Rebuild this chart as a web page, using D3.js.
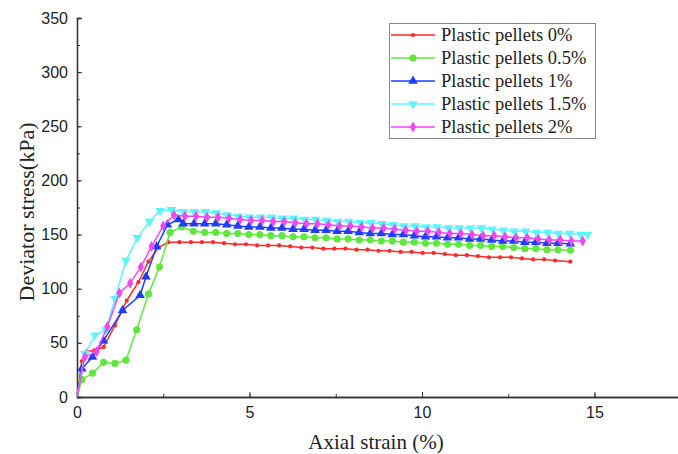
<!DOCTYPE html>
<html lang="en">
<head>
<meta charset="UTF-8">
<title>Deviator stress vs axial strain</title>
<script src="https://d3js.org/d3.v7.min.js"></script>
<style>
    body { margin: 0; background: #fff; overflow: hidden; }
    .tick text { font-family: "Liberation Sans", Arial, sans-serif; font-size: 16px; fill: #222; }
    .title { font-family: "Liberation Serif", "Times New Roman", serif; font-size: 21px; fill: #222; }
    .legend text { font-family: "Liberation Serif", "Times New Roman", serif; font-size: 18.5px; fill: #222; }
</style>
</head>
<body>
<div id="chart"></div>
<script>
// series data: [axial strain %, deviator stress kPa]
const pellets0 = [[0,0],[0.14,33],[0.28,42],[0.5,43],[0.77,46],[1.1,66],[1.44,89],[1.78,106],[2.07,125],[2.36,138],[2.65,143],[2.97,143],[3.3,143],[3.62,143],[3.94,143],[4.26,142],[4.58,141],[4.9,141],[5.22,140],[5.54,140],[5.86,140],[6.18,139],[6.5,138],[6.82,138],[7.14,137],[7.46,137],[7.78,137],[8.1,136],[8.42,136],[8.74,135],[9.06,135],[9.38,134],[9.7,134],[10.02,133],[10.34,133],[10.66,132],[10.98,131],[11.3,131],[11.62,130],[11.94,129],[12.26,129],[12.58,129],[12.9,128],[13.22,127],[13.54,127],[13.86,126],[14.3,125]];
const pellets05 = [[0,0],[0.14,16],[0.45,22],[0.77,32],[1.1,31],[1.42,34],[1.73,62],[2.07,95],[2.39,120],[2.7,152],[3.03,157],[3.37,153],[3.7,152],[4.02,152],[4.34,151],[4.66,151],[4.98,150],[5.3,150],[5.62,149],[5.94,149],[6.26,148],[6.58,148],[6.9,147],[7.22,147],[7.54,146],[7.86,146],[8.18,145],[8.5,145],[8.82,144],[9.14,144],[9.46,143],[9.78,143],[10.1,142],[10.42,142],[10.74,141],[11.06,141],[11.38,140],[11.7,140],[12.02,139],[12.34,139],[12.66,138],[12.98,137],[13.3,137],[13.62,136],[13.94,136],[14.3,135.5]];
const pellets1 = [[0,0],[0.14,26],[0.45,37],[0.77,52],[1.32,80],[1.83,94],[2.0,111],[2.31,139],[2.62,159],[2.94,164],[3.08,160],[3.39,160],[3.7,160],[4.02,160],[4.34,159],[4.66,158],[4.98,157],[5.3,157],[5.62,156],[5.94,156],[6.26,155],[6.58,155],[6.9,154],[7.22,154],[7.54,153],[7.86,153],[8.18,152],[8.5,151],[8.82,151],[9.14,150],[9.46,150],[9.78,149],[10.1,148],[10.42,148],[10.74,147],[11.06,147],[11.38,146],[11.7,146],[12.02,145],[12.34,144],[12.66,144],[12.98,143],[13.3,143],[13.62,142],[13.94,142],[14.3,141.5]];
const pellets15 = [[0,0],[0.23,40],[0.52,57],[0.84,62],[1.1,91],[1.42,126],[1.75,147],[2.1,162],[2.41,172],[2.74,173],[3.08,171],[3.4,171],[3.72,171],[4.04,170],[4.36,168],[4.68,167],[5.0,166],[5.32,166],[5.64,166],[5.96,165],[6.28,165],[6.6,164],[6.92,164],[7.24,163],[7.56,162],[7.88,162],[8.2,161],[8.52,161],[8.84,160],[9.16,159],[9.48,158],[9.8,158],[10.12,157],[10.44,157],[10.76,156],[11.08,156],[11.4,156],[11.72,156],[12.04,155],[12.36,154],[12.68,153],[13.0,153],[13.32,152],[13.64,152],[13.96,151],[14.28,151],[14.6,150],[14.8,150]];
const pellets2 = [[0,0],[0.23,37],[0.57,42],[0.88,65],[1.23,96],[1.54,105],[1.85,120],[2.16,139],[2.5,158],[2.81,168],[3.13,167],[3.45,167],[3.77,166],[4.09,166],[4.41,165],[4.73,164],[5.05,163],[5.37,163],[5.69,162],[6.01,162],[6.33,161],[6.65,160],[6.97,160],[7.29,159],[7.61,158],[7.93,158],[8.25,157],[8.57,156],[8.89,156],[9.21,155],[9.53,154],[9.85,153],[10.17,153],[10.49,152],[10.81,151],[11.13,151],[11.45,150],[11.77,149],[12.09,149],[12.41,148],[12.73,147],[13.05,147],[13.37,146],[13.69,145],[14.01,145],[14.33,144],[14.66,144]];

const seriesNames = ["Plastic pellets 0%", "Plastic pellets 0.5%", "Plastic pellets 1%", "Plastic pellets 1.5%", "Plastic pellets 2%"];
const seriesData = [pellets0, pellets05, pellets1, pellets15, pellets2];
const seriesColors = ["#ff2a2a", "#5ee83c", "#1f3cff", "#5cf5ff", "#f048f0"];
const seriesSymbols = [d3.symbolCircle, d3.symbolCircle, d3.symbolTriangle, "down", d3.symbolDiamond];
const symbolSizes = [14, 40, 40, 40, 34];

const xTicks = [0, 5, 10, 15];
const yTicks = [0, 50, 100, 150, 200, 250, 300, 350];

const width = 678, height = 454;
const svg = d3.select("#chart").append("svg")
    .attr("width", width)
    .attr("height", height);

const x = d3.scaleLinear().domain([0, 17.5]).range([77, 680.75]);
const y = d3.scaleLinear().domain([0, 350]).range([397, 18]);

// minor ticks first, then major ticks with labels
const gx = svg.append("g").attr("transform", `translate(0,${y(0)})`);
gx.call(d3.axisBottom(x).tickValues(d3.range(0, 17.6, 2.5)).tickSize(-3).tickFormat(""));
gx.append("g").call(d3.axisBottom(x).tickValues(xTicks).tickSize(-5).tickPadding(10).tickFormat(d3.format("d")));
gx.selectAll(".domain").attr("stroke", "#333").attr("stroke-width", 1.3);
gx.selectAll("line").attr("stroke", "#333");

const gy = svg.append("g").attr("transform", `translate(${x(0)},0)`);
gy.call(d3.axisLeft(y).tickValues(d3.range(0, 351, 25)).tickSize(-3).tickFormat(""));
gy.append("g").call(d3.axisLeft(y).tickValues(yTicks).tickSize(-5).tickPadding(9).tickFormat(d3.format("d")));
gy.selectAll(".domain").attr("stroke", "#333").attr("stroke-width", 1.3);
gy.selectAll("line").attr("stroke", "#333");

svg.append("text").attr("class", "title")
    .attr("x", 376).attr("y", 449)
    .attr("text-anchor", "middle")
    .text("Axial strain (%)");

svg.append("text").attr("class", "title")
    .attr("transform", "translate(34,212) rotate(-90)")
    .attr("text-anchor", "middle")
    .style("font-size", "22px")
    .text("Deviator stress(kPa)");

function marker(sym, size) {
    if (sym === "down") return d3.symbol().type(d3.symbolTriangle).size(size)();
    return d3.symbol().type(sym).size(size)();
}

const line = d3.line().x(d => x(d[0])).y(d => y(d[1]));

seriesData.forEach((data, i) => {
    const g = svg.append("g");
    g.append("path")
        .datum(data)
        .attr("fill", "none")
        .attr("stroke", seriesColors[i])
        .attr("stroke-width", 1.5)
        .attr("d", line);
    g.selectAll("path.pt")
        .data(data.slice(1))
        .join("path")
        .attr("class", "pt")
        .attr("fill", seriesColors[i])
        .attr("d", marker(seriesSymbols[i], symbolSizes[i]))
        .attr("transform", d => `translate(${x(d[0])},${y(d[1])})` + (seriesSymbols[i] === "down" ? " rotate(180)" : ""));
});

// legend
const legend = svg.append("g").attr("class", "legend");
legend.append("rect")
    .attr("x", 389.5).attr("y", 23.5)
    .attr("width", 206).attr("height", 115)
    .attr("fill", "#fff")
    .attr("stroke", "#888");

seriesNames.forEach((name, i) => {
    const ly = 35 + i * 23;
    legend.append("line")
        .attr("x1", 391).attr("x2", 435)
        .attr("y1", ly).attr("y2", ly)
        .attr("stroke", seriesColors[i])
        .attr("stroke-width", 1.5);
    legend.append("path")
        .attr("fill", seriesColors[i])
        .attr("d", marker(seriesSymbols[i], symbolSizes[i]))
        .attr("transform", `translate(413,${ly})` + (seriesSymbols[i] === "down" ? " rotate(180)" : ""));
    legend.append("text")
        .attr("x", 441).attr("y", ly + 6)
        .text(name);
});
</script>
</body>
</html>
